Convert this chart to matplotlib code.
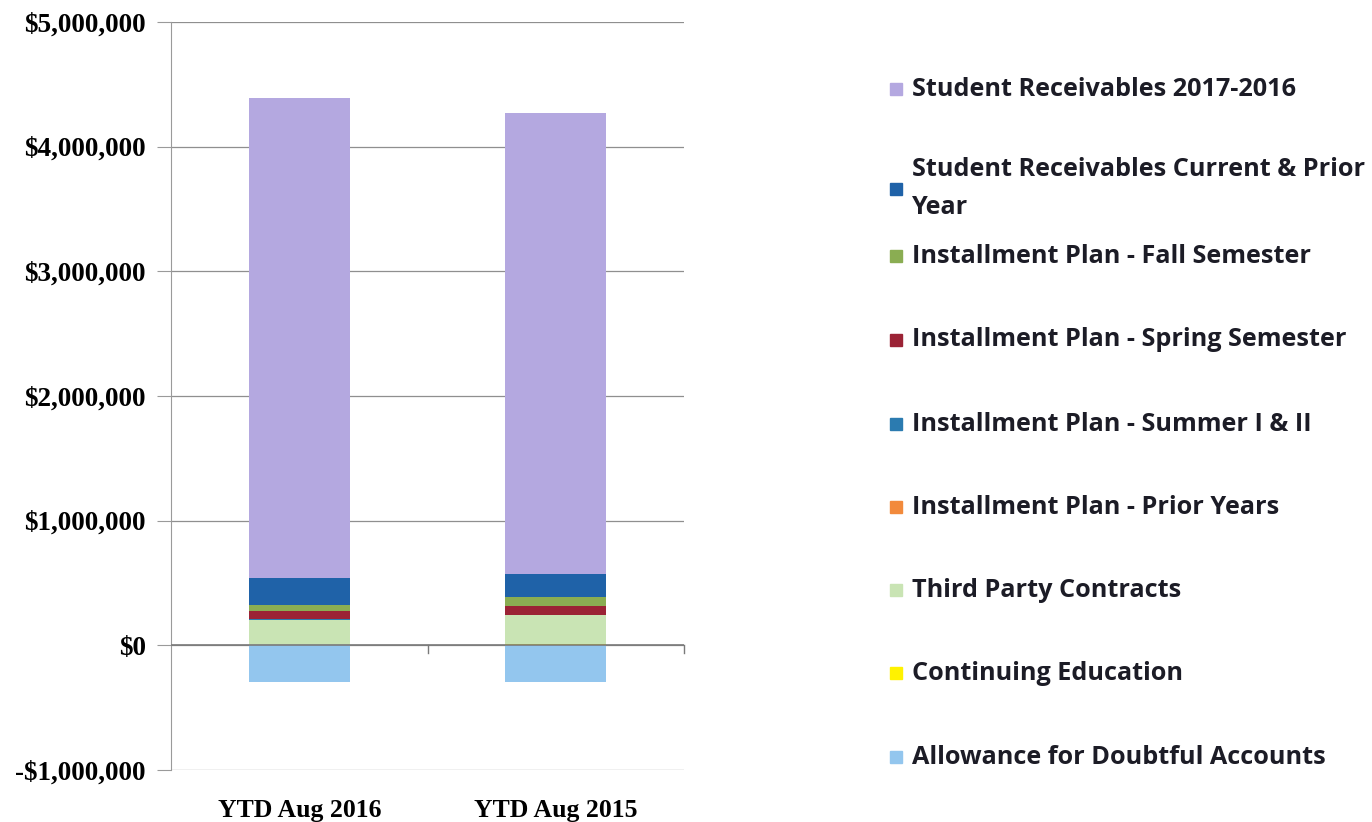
import matplotlib
matplotlib.use("Agg")
import matplotlib.pyplot as plt
from matplotlib.patches import Rectangle
from matplotlib.ticker import FuncFormatter

categories = ["YTD Aug 2016", "YTD Aug 2015"]

# stacked from the bottom up (positive part)
series_names = [
    "Continuing Education",
    "Third Party Contracts",
    "Installment Plan - Prior Years",
    "Installment Plan - Summer I & II",
    "Installment Plan - Spring Semester",
    "Installment Plan - Fall Semester",
    "Student Receivables Current & Prior\nYear",
    "Student Receivables 2017-2016",
]
continuing_ed = [3000, 12000]
third_party = [200000, 228000]
prior_years = [2000, 2000]
summer = [3000, 3000]
spring = [65000, 67000]
fall = [53000, 75000]
current_prior = [214000, 187000]
receivables_1716 = [3850000, 3695000]
allowance = [-295000, -295000]

series_values = [continuing_ed, third_party, prior_years, summer, spring,
                 fall, current_prior, receivables_1716]
colors = ["#fff200", "#c9e4b4", "#f28a3c", "#2b7bb0", "#9b2335",
          "#8aad52", "#1f62a8", "#b4a8e0"]
allowance_color = "#93c6ee"

legend_order = [
    ("Student Receivables 2017-2016", "#b4a8e0"),
    ("Student Receivables Current & Prior\nYear", "#1f62a8"),
    ("Installment Plan - Fall Semester", "#8aad52"),
    ("Installment Plan - Spring Semester", "#9b2335"),
    ("Installment Plan - Summer I & II", "#2b7bb0"),
    ("Installment Plan - Prior Years", "#f28a3c"),
    ("Third Party Contracts", "#c9e4b4"),
    ("Continuing Education", "#fff200"),
    ("Allowance for Doubtful Accounts", allowance_color),
]

W, H = 1372, 822
fig = plt.figure(figsize=(W / 100, H / 100), dpi=100)
ax = fig.add_axes([171 / W, 1 - 770 / H, (684 - 171) / W, (770 - 22) / H])

x = list(range(len(categories)))
bottom = [0, 0]
for vals, col in zip(series_values, colors):
    ax.bar(x, vals, width=0.395, bottom=bottom, color=col, linewidth=0, zorder=3)
    bottom = [b + v for b, v in zip(bottom, vals)]
ax.bar(x, allowance, width=0.395, color=allowance_color, linewidth=0, zorder=3)

ax.set_xlim(-0.5, 1.5)
ax.set_ylim(-1000000, 5000000)
ax.set_yticks(range(-1000000, 5000001, 1000000))
ax.yaxis.set_major_formatter(FuncFormatter(
    lambda v, p: ("-$" if v < 0 else "$") + f"{abs(int(v)):,}"))
ax.grid(axis="y", color="#8f8f8f", linewidth=0.9, zorder=0)
ax.axhline(0, color="#7a7a7a", linewidth=1.2, zorder=4)

for s in ["top", "right", "bottom"]:
    ax.spines[s].set_visible(False)
ax.spines["left"].set_color("#9a9a9a")
ax.tick_params(axis="y", length=10, color="#9a9a9a", pad=8)
ax.tick_params(axis="x", length=0, pad=21)
ax.set_xticks(x)
ax.set_xticklabels(categories)
for lab in ax.get_yticklabels():
    lab.set_fontfamily("Liberation Serif")
    lab.set_fontweight("bold")
    lab.set_fontsize(19.5)
for lab in ax.get_xticklabels():
    lab.set_fontfamily("Liberation Serif")
    lab.set_fontweight("bold")
    lab.set_fontsize(18.5)
# category boundary ticks on the zero line
for bx in [0.5, 1.5]:
    ax.plot([bx, bx], [0, -60000], color="#7a7a7a", linewidth=1, zorder=4,
            clip_on=False)

# legend drawn beside the plot
legend_y = [89, 189, 256, 340, 424, 507, 590, 673, 757]
text_kw = dict(fontfamily="Open Sans", fontweight="bold", fontsize=18.2,
               va="center", color="#1c1c26")
for (name, col), yy in zip(legend_order, legend_y):
    fig.patches.append(Rectangle((890 / W, 1 - (yy + 6) / H), 12 / W, 12 / H,
                                 transform=fig.transFigure, color=col))
    if "\n" in name:
        first, second = name.split("\n")
        fig.text(912 / W, 1 - (yy - 19) / H, first, **text_kw)
        fig.text(912 / W, 1 - (yy + 19) / H, second, **text_kw)
    else:
        fig.text(912 / W, 1 - yy / H, name, **text_kw)

fig.savefig("out.png", dpi=100)
